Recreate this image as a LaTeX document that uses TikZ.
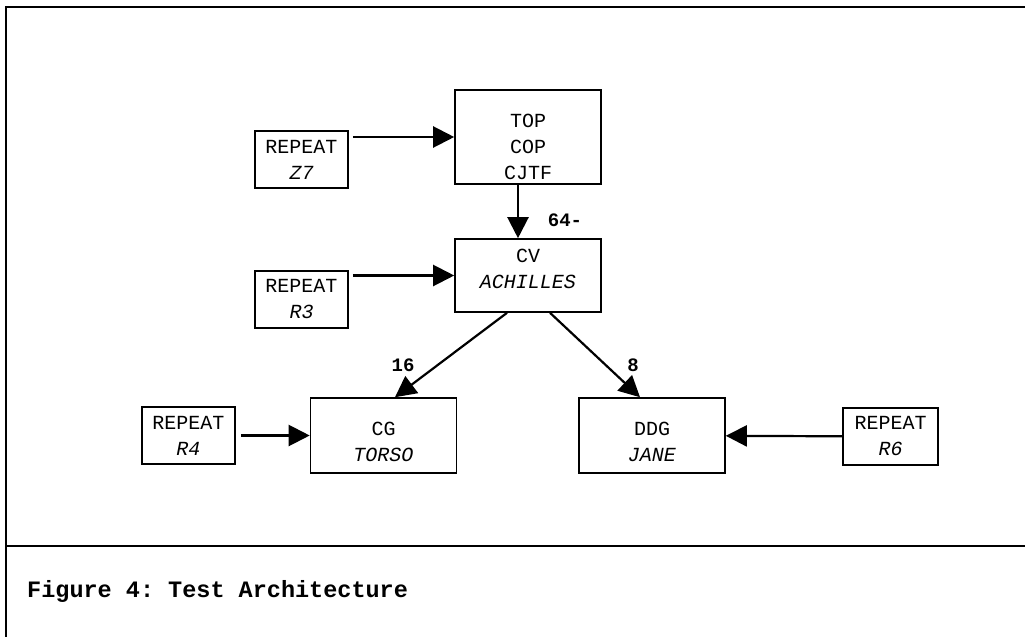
\documentclass[tikz,border=0pt]{standalone}
\usepackage{fontspec}
\setmonofont{Liberation Mono}
\usetikzlibrary{arrows.meta,positioning}

\begin{document}
\begin{tikzpicture}[
            x=1pt, y=-1pt,
            blk/.style={draw, rectangle, line width=1.6pt, align=center, inner sep=0pt, font=\ttfamily\fontsize{20}{26}\selectfont},
            bigbox/.style={blk, minimum width=146pt, minimum height=75pt},
            repbox/.style={blk, minimum width=93pt, minimum height=57pt},
            lbl/.style={font=\ttfamily\bfseries\fontsize{19}{19}\selectfont},
            link/.style={-{Triangle[length=21pt,width=21pt]}, line width=2.2pt},
            frame/.style={line width=2.6pt}
        ]
            \useasboundingbox (0,0) rectangle (1025,637);

            \node[bigbox, minimum height=94pt] (top) at (528,137) {\rule{0pt}{34pt}TOP\\COP\\CJTF};
            \node[bigbox, minimum height=73pt] (cv) at (528,275.5) {CV\\\textit{ACHILLES}\rule[-14pt]{0pt}{0pt}};
            \node[bigbox] (cg) at (383.5,435.5) {\rule{0pt}{26pt}CG\\\textit{TORSO}};
            \node[bigbox] (ddg) at (652,435.5) {\rule{0pt}{26pt}DDG\\\textit{JANE}};

            \node[repbox] (z7) at (301.5,159.5) {REPEAT\\\textit{Z7}};
            \node[repbox] (r3) at (301.5,299.5) {REPEAT\\\textit{R3}};
            \node[repbox] (r4) at (188.5,435.5) {REPEAT\\\textit{R4}};
            \node[repbox, minimum width=95pt] (r6) at (890.5,436.5) {REPEAT\\\textit{R6}};

            \draw[link, shorten <=4pt] (z7.east |- top.west) -- (top.west);
            \draw[link, shorten <=4pt] (r3.east |- cv.west) -- (cv.west);
            \draw[link, shorten <=5pt] (r4) -- (cg);
            \draw[link] (r6) -- (ddg);
            \draw[link] ([xshift=-10pt]top.south) -- ([xshift=-10pt]cv.north);
            \draw[link] ([xshift=-21pt]cv.south) -- ([xshift=11.5pt]cg.north);
            \draw[link] ([xshift=22pt]cv.south) -- ([xshift=-12pt]ddg.north);

            \node[lbl] (n64) at (565,220) {64-};
            \node[lbl] (n16) at (403,365) {16};
            \node[lbl] (n8) at (633,365) {8};

            \draw[frame] (1025,7) -| (6,637);
            \draw[frame] (6,546) -- (1025,546);
            \node[anchor=base west, inner sep=0pt, font=\ttfamily\bfseries\fontsize{23.5}{24}\selectfont] (cap) at (27,597) {Figure 4: Test Architecture};
        \end{tikzpicture}
\end{document}
